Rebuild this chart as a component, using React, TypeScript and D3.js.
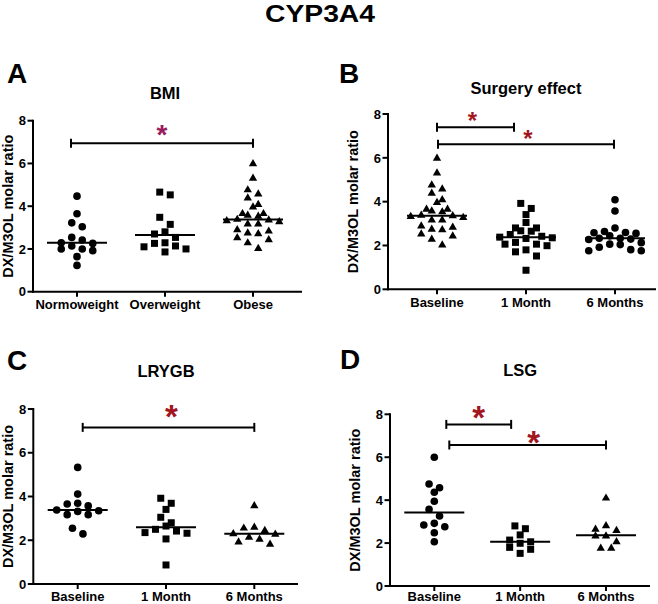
import React from "react";
import * as d3 from "d3";

// ---------- data ----------
const chartTitle = "CYP3A4";
const yAxisLabel = "DX/M3OL molar ratio";
const yTicks = [0, 2, 4, 6, 8];

// Panel A – BMI
const bmiCategories = ["Normoweight", "Overweight", "Obese"];
const normoweight = [4.47, 3.65, 3.22, 3.04, 2.54, 2.42, 2.29, 2.26, 2.14, 2.0, 2.0, 1.92, 1.64, 1.23];
const overweight = [4.66, 4.53, 3.48, 3.15, 2.8, 2.7, 2.54, 2.29, 2.26, 2.14, 2.1, 2.0, 1.86];
const obese = [5.98, 5.3, 4.76, 4.57, 4.38, 4.08, 3.96, 3.65, 3.65, 3.57, 3.53, 3.38, 3.35, 3.32, 3.27, 3.16, 3.16, 2.89, 2.83, 2.74, 2.71, 2.52, 2.43, 2.28, 2.02];
const bmiCenters = [2.29, 2.65, 3.38];

// Panel B – Surgery effect
const timeCategories = ["Baseline", "1 Month", "6 Months"];
const allBaseline = obese;
const allMonth1 = [3.92, 3.69, 3.41, 3.05, 2.8, 2.8, 2.67, 2.65, 2.5, 2.42, 2.38, 2.35, 2.32, 2.14, 2.06, 2.06, 1.99, 1.8, 1.71, 1.52, 0.87];
const allMonth6 = [4.09, 3.57, 2.8, 2.64, 2.59, 2.58, 2.55, 2.44, 2.33, 2.33, 2.29, 2.27, 2.13, 2.06, 2.04, 1.92, 1.81, 1.76, 1.76];
const surgeryCenters = [3.36, 2.37, 2.33];

// Panel C – LRYGB
const lrygbBaseline = [5.33, 4.11, 3.69, 3.66, 3.57, 3.38, 3.35, 3.32, 3.17, 3.17, 2.55, 2.29];
const lrygbMonth1 = [3.92, 3.69, 3.41, 3.05, 2.8, 2.65, 2.5, 2.42, 2.35, 2.32, 2.06, 0.87];
const lrygbMonth6 = [3.57, 2.59, 2.55, 2.44, 2.29, 2.27, 2.13, 2.04, 1.92, 1.81];
const lrygbCenters = [3.38, 2.59, 2.3];

// Panel D – LSG
const lsgBaseline = [6.0, 4.75, 4.58, 4.37, 3.95, 3.57, 3.26, 2.92, 2.84, 2.76, 2.48, 2.06];
const lsgMonth1 = [2.8, 2.67, 2.38, 2.14, 2.06, 1.99, 1.8, 1.71, 1.52];
const lsgMonth6 = [4.09, 2.8, 2.64, 2.58, 2.33, 2.33, 2.06, 1.76, 1.76];
const lsgCenters = [3.43, 2.06, 2.36];

// significance brackets
const bmiBrackets = [{ from: "Normoweight", to: "Obese", y: 6.95 }];
const surgeryBrackets = [
  { from: "Baseline", to: "1 Month", y: 7.4 },
  { from: "Baseline", to: "6 Months", y: 6.62 },
];
const lrygbBrackets = [{ from: "Baseline", to: "6 Months", y: 7.16 }];
const lsgBrackets = [
  { from: "Baseline", to: "1 Month", y: 7.53 },
  { from: "Baseline", to: "6 Months", y: 6.57 },
];

// ---------- layout / style ----------
type Shape = "circle" | "square" | "triangle";
const FONT = "'Liberation Sans', Arial, Helvetica, sans-serif";

interface Geom {
  axisX: number; axisEnd: number; yTop: number; yBottom: number;
  cat0: number; cat1: number; letterX: number; letterY: number;
  titleY: number; labelX: number;
  bracketInsets: { x0: number; x1: number; starDy: number; starDx: number }[];
  starColor: string; starSize: number;
}

const panels = [
  {
    letter: "A", title: "BMI", categories: bmiCategories,
    groups: [normoweight, overweight, obese], centers: bmiCenters,
    shapes: ["circle", "square", "triangle"] as Shape[], brackets: bmiBrackets,
    geom: {
      axisX: 33, axisEnd: 302, yTop: 120.7, yBottom: 291.7, cat0: 77, cat1: 253,
      letterX: 7, letterY: 83, titleY: 99, labelX: 13,
      bracketInsets: [{ x0: -6, x1: 0, starDy: 15, starDx: 0 }],
      starColor: "#9b1c5e", starSize: 28,
    } as Geom,
  },
  {
    letter: "B", title: "Surgery effect", categories: timeCategories,
    groups: [allBaseline, allMonth1, allMonth6], centers: surgeryCenters,
    shapes: ["triangle", "square", "circle"] as Shape[], brackets: surgeryBrackets,
    geom: {
      axisX: 388, axisEnd: 656, yTop: 114, yBottom: 289.3, cat0: 437, cat1: 615,
      letterX: 339, letterY: 83, titleY: 93.5, labelX: 358,
      bracketInsets: [
        { x0: 0, x1: -12, starDy: 11, starDx: -3 },
        { x0: 1, x1: -1, starDy: 10, starDx: 2 },
      ],
      starColor: "#a3161f", starSize: 24,
    } as Geom,
  },
  {
    letter: "C", title: "LRYGB", categories: timeCategories,
    groups: [lrygbBaseline, lrygbMonth1, lrygbMonth6], centers: lrygbCenters,
    shapes: ["circle", "square", "triangle"] as Shape[], brackets: lrygbBrackets,
    geom: {
      axisX: 33.3, axisEnd: 298, yTop: 409, yBottom: 584, cat0: 77.7, cat1: 254.3,
      letterX: 7, letterY: 370, titleY: 377, labelX: 13,
      bracketInsets: [{ x0: 5, x1: 0, starDy: 18, starDx: 3 }],
      starColor: "#a3161f", starSize: 33,
    } as Geom,
  },
  {
    letter: "D", title: "LSG", categories: timeCategories,
    groups: [lsgBaseline, lsgMonth1, lsgMonth6], centers: lsgCenters,
    shapes: ["circle", "square", "triangle"] as Shape[], brackets: lsgBrackets,
    geom: {
      axisX: 390, axisEnd: 650, yTop: 414.3, yBottom: 586, cat0: 434.3, cat1: 606,
      letterX: 340, letterY: 369, titleY: 376, labelX: 360,
      bracketInsets: [
        { x0: 12, x1: -9, starDy: 14, starDx: 0 },
        { x0: 15, x1: 0, starDy: 9, starDx: 6 },
      ],
      starColor: "#a3161f", starSize: 33,
    } as Geom,
  },
];

const symbolPaths: Record<Shape, string> = {
  circle: d3.symbol().type(d3.symbolCircle).size(Math.PI * 3.8 * 3.8)() as string,
  square: d3.symbol().type(d3.symbolSquare).size(7 * 7)() as string,
  triangle: d3.symbol().type(d3.symbolTriangle).size(30)() as string,
};

// GraphPad-like column scatter: bin by value, centre each row
function swarm(values: number[], y: d3.ScaleLinear<number, number>, binPx = 7.5, colPx = 10.5) {
  const sorted = values.map((v) => v).sort((a, b) => b - a);
  const bins: number[][] = [];
  let cur: number[] = [];
  let startY: number | null = null;
  for (const v of sorted) {
    const py = y(v);
    if (startY === null || py - startY >= binPx) {
      if (cur.length) bins.push(cur);
      cur = [v];
      startY = py;
    } else cur.push(v);
  }
  if (cur.length) bins.push(cur);
  const out: { v: number; dx: number }[] = [];
  for (const b of bins) {
    const n = b.length;
    const slots = d3.range(n).map((k) => k - (n - 1) / 2)
      .sort((a, c) => Math.abs(a) - Math.abs(c) || a - c);
    b.forEach((v, k) => out.push({ v, dx: slots[k] * colPx }));
  }
  return out;
}

function Panel({ p }: { p: (typeof panels)[number] }) {
  const g = p.geom;
  const y = d3.scaleLinear().domain([0, 8]).range([g.yBottom, g.yTop]);
  const x = d3.scalePoint<string>().domain(p.categories).range([g.cat0, g.cat1]);
  const midCat = x(p.categories[1]) as number;
  const labelY = (g.yTop + g.yBottom) / 2;
  const catLabelY = Math.min(y(0) + 17.5, 600.5);
  return (
    <g>
      <text x={g.letterX} y={g.letterY} fontSize={28} fontWeight="bold" fontFamily={FONT}>{p.letter}</text>
      <text x={midCat} y={g.titleY} fontSize={16.5} fontWeight="bold" fontFamily={FONT} textAnchor="middle">{p.title}</text>
      <text transform={`translate(${g.labelX},${labelY}) rotate(-90)`} fontSize={14.5} fontWeight="bold"
        fontFamily={FONT} textAnchor="middle">{yAxisLabel}</text>
      {/* axes */}
      <line x1={g.axisX} x2={g.axisX} y1={y(8) - 1} y2={y(0) + 1} stroke="#000" strokeWidth={2} />
      <line x1={g.axisX - 1} x2={g.axisEnd} y1={y(0)} y2={y(0)} stroke="#000" strokeWidth={2} />
      {yTicks.map((t) => (
        <g key={t}>
          <line x1={g.axisX - 5.5} x2={g.axisX} y1={y(t)} y2={y(t)} stroke="#000" strokeWidth={2} />
          <text x={g.axisX - 7} y={y(t)} dy="0.36em" textAnchor="end" fontSize={13} fontWeight="bold" fontFamily={FONT}>{t}</text>
        </g>
      ))}
      {p.categories.map((c) => (
        <g key={c}>
          <line x1={x(c)} x2={x(c)} y1={y(0)} y2={y(0) + 5} stroke="#000" strokeWidth={2} />
          <text x={x(c)} y={catLabelY} textAnchor="middle" fontSize={13} fontWeight="bold" fontFamily={FONT}>{c}</text>
        </g>
      ))}
      {/* points */}
      {p.groups.map((vals, gi) => {
        const cx = x(p.categories[gi]) as number;
        return (
          <g key={gi}>
            {swarm(vals, y).map((pt, k) => (
              <path key={k} d={symbolPaths[p.shapes[gi]]} transform={`translate(${cx + pt.dx},${y(pt.v)})`} fill="#000" />
            ))}
            <line x1={cx - 30} x2={cx + 30} y1={y(p.centers[gi])} y2={y(p.centers[gi])} stroke="#000" strokeWidth={2} />
          </g>
        );
      })}
      {/* significance */}
      {p.brackets.map((b, bi) => {
        const ins = g.bracketInsets[bi];
        const x0 = (x(b.from) as number) + ins.x0;
        const x1 = (x(b.to) as number) + ins.x1;
        const by = y(b.y);
        const sx = (x0 + x1) / 2 + ins.starDx;
        const sy = by - ins.starDy;
        return (
          <g key={bi}>
            <line x1={x0} x2={x1} y1={by} y2={by} stroke="#000" strokeWidth={2} />
            <line x1={x0} x2={x0} y1={by - 4.5} y2={by + 4.5} stroke="#000" strokeWidth={2} />
            <line x1={x1} x2={x1} y1={by - 4.5} y2={by + 4.5} stroke="#000" strokeWidth={2} />
            <text x={sx} y={sy + 0.55 * g.starSize} textAnchor="middle" fontSize={g.starSize}
              fontWeight="bold" fontFamily={FONT} fill={g.starColor}>*</text>
          </g>
        );
      })}
    </g>
  );
}

export default function App() {
  return (
    <svg width={658} height={604} style={{ position: "absolute", left: 0, top: 0, background: "#fff" }}>
      <rect width={658} height={604} fill="#fff" />
      <text x={320} y={22} textAnchor="middle" fontSize={23.5} fontWeight="bold" fontFamily={FONT}
        textLength={110} lengthAdjust="spacingAndGlyphs">{chartTitle}</text>
      {panels.map((p) => <Panel key={p.letter} p={p} />)}
    </svg>
  );
}
